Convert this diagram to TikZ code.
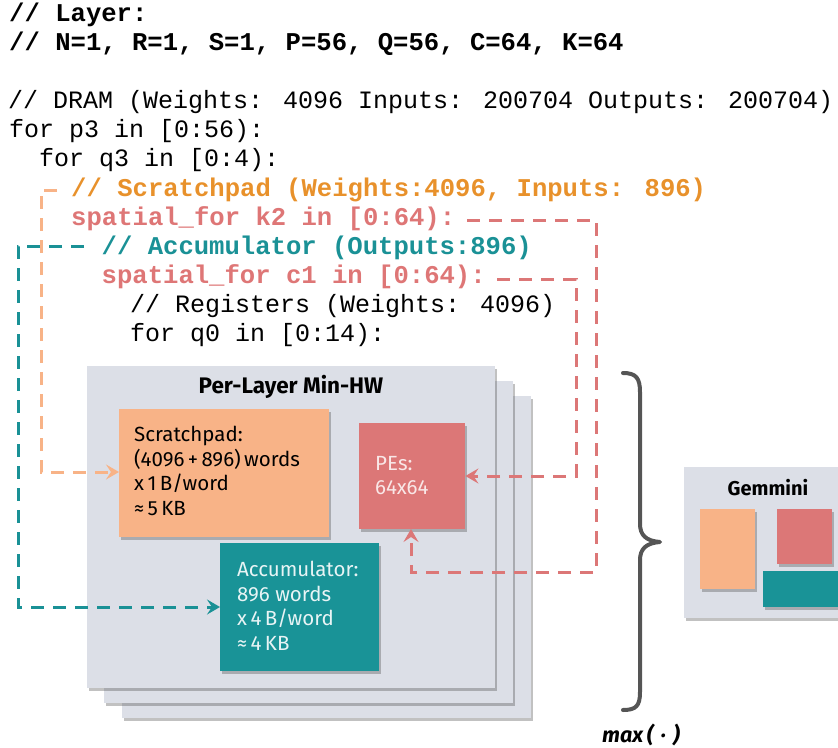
\documentclass[tikz,border=0pt]{standalone}
\usepackage{fontspec}
\setmainfont{Fira Sans}
\newfontfamily\codefont{Liberation Mono}
\usetikzlibrary{arrows.meta,shadows}
\definecolor{cOrangeT}{HTML}{E8912B}
\definecolor{cPinkT}{HTML}{DE7676}
\definecolor{cTealT}{HTML}{1A9196}
\definecolor{cScratch}{HTML}{F8B387}
\definecolor{cPE}{HTML}{DC7777}
\definecolor{cAcc}{HTML}{199397}
\definecolor{cBg}{HTML}{DCDFE7}
\definecolor{cBrace}{HTML}{555555}
\tikzset{
  code/.style={font=\codefont\fontsize{25}{29}\selectfont, anchor=base west, inner sep=0pt},
  codebold/.style={code, font=\codefont\fontsize{25.6}{29}\selectfont\bfseries},
  panel/.style={fill=cBg, anchor=north west, inner sep=0pt,
    drop shadow={shadow xshift=2pt, shadow yshift=-3pt, opacity=0.35, fill=black!70}},
  unit/.style={anchor=north west, inner sep=0pt,
    drop shadow={shadow xshift=2pt, shadow yshift=-3pt, opacity=0.35, fill=black!70}},
  unittext/.style={anchor=north west, inner sep=0pt, align=left,
    font=\fontsize{20.5}{24.5}\selectfont},
  link/.style={line width=3pt, dash pattern=on 13pt off 9pt,
    -{Stealth[length=13pt, width=15pt, inset=5pt]}},
}
\begin{document}
\begin{tikzpicture}[x=1pt,y=-1pt]
\useasboundingbox (0,0) rectangle (838,747);

% ---- code listing ----
\node[codebold] (l1) at (9,21) {// Layer:};
\node[codebold] (l2) at (9,50) {// N=1, R=1, S=1, P=56, Q=56, C=64, K=64};
\node[code] (l3) at (8,108) {// DRAM (Weights: 4096 Inputs: 200704 Outputs: 200704)};
\node[code] (l4) at (9,137) {for p3 in [0:56):};
\node[code] (l5) at (39,166) {for q3 in [0:4):};
\node[codebold, text=cOrangeT] (l6) at (71,196) {// Scratchpad (Weights:4096, Inputs: 896)};
\node[codebold, text=cPinkT] (l7) at (71,225) {spatial\_for k2 in [0:64):};
\node[codebold, text=cTealT] (l8) at (101.5,254) {// Accumulator (Outputs:896)};
\node[codebold, text=cPinkT] (l9) at (101.5,283) {spatial\_for c1 in [0:64):};
\node[code] (l10) at (130,312) {// Registers (Weights: 4096)};
\node[code] (l11) at (130,341) {for q0 in [0:14):};

% ---- stacked panels ----
\node[panel, minimum width=409pt, minimum height=322pt] (p3) at (122,396) {};
\node[panel, minimum width=409pt, minimum height=322pt] (p2) at (104,381) {};
\node[panel, minimum width=408pt, minimum height=322pt] (p1) at (87,366) {};
\node[font=\fontsize{22.5}{26}\selectfont\bfseries, inner sep=0pt] (title) at (291,387) {Per-Layer Min-HW};

\node[unit, fill=cScratch, minimum width=210pt, minimum height=128pt] (sp) at (119,409) {};
\node[unittext] (sptext) at (134,426) {Scratchpad:\\(4096\,+\,896)\,words\\x\,1\,B/word\\≈\,5\,KB};

\node[unit, fill=cPE, minimum width=106pt, minimum height=106pt] (pe) at (359,423) {};
\node[unittext, text=white!82!cPE] (petext) at (375,456) {PEs:\\64x64};

\node[unit, fill=cAcc, minimum width=159pt, minimum height=128pt] (acc) at (220,543) {};
\node[unittext, text=white!90!cAcc] (acctext) at (237,561) {Accumulator:\\896 words\\x\,4\,B/word\\≈\,4\,KB};

% ---- connectors ----
\coordinate (oS) at (57,190);
\coordinate (tS) at (84,246);
\coordinate (k2S) at (467,220);
\coordinate (c1S) at (497,279);
\draw[link, draw=cScratch] (oS) -- (41,190) -- (41,472) -- (sp.west |- 0,472);
\draw[link, draw=cTealT] (tS) -- (18,246) -- (18,607) -- (acc.west |- 0,607);
\draw[link, draw=cPE] (k2S) -- (596,220) -- (596,572) -- (411,572) -- (411,529);
\draw[link, draw=cPE] (c1S) -- (576,279) -- (576,476) -- (pe.east |- 0,476);

% ---- brace ----
\draw[cBrace, line width=4pt, line cap=round, line join=round]
  (623,373) .. controls (636,373) and (640,378) .. (640,392)
  -- (640,524) .. controls (640,535) and (646,541) .. (660,542)
  .. controls (646,543) and (640,549) .. (640,560)
  -- (640,692) .. controls (640,706) and (636,710) .. (623,710);
\node[font=\fontsize{21.5}{24}\selectfont\bfseries\itshape, inner sep=0pt] (maxlbl) at (641,735) {max\,(\,\,·\,\,)};

% ---- Gemmini ----
\node[panel, minimum width=170pt, minimum height=151pt] (gem) at (684,467) {};
\node[font=\fontsize{20}{24}\selectfont\bfseries, inner sep=0pt] (gemt) at (768,488) {Gemmini};
\node[unit, fill=cScratch, minimum width=55pt, minimum height=80pt] (gsp) at (700,509) {};
\node[unit, fill=cPE, minimum width=55pt, minimum height=55pt] (gpe) at (777,509) {};
\node[unit, fill=cAcc, minimum width=90pt, minimum height=36pt] (gacc) at (763,571) {};
\end{tikzpicture}
\end{document}
